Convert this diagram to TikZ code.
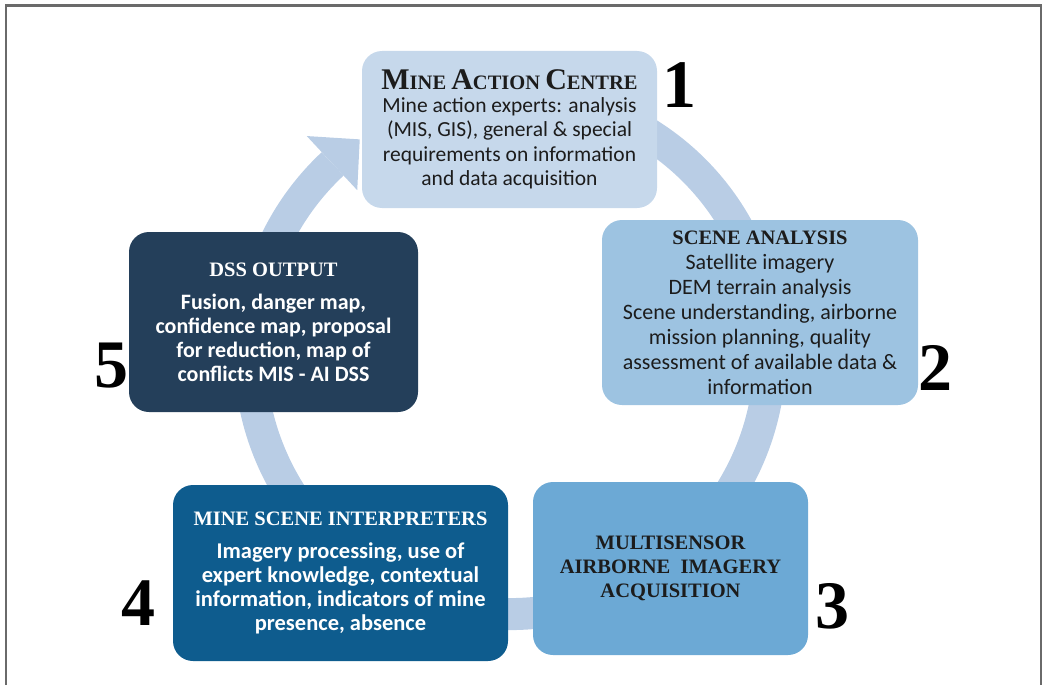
\documentclass[tikz,border=0pt]{standalone}
\usepackage{fontspec}
\setmainfont{Carlito}
\newfontfamily\serifb{Liberation Serif}
\definecolor{ringc}{HTML}{B9CDE5}
\definecolor{cA}{HTML}{C6D8EB}
\definecolor{cB}{HTML}{9DC3E1}
\definecolor{cC}{HTML}{6CA9D5}
\definecolor{cD}{HTML}{0E5C8E}
\definecolor{cE}{HTML}{243F5A}
\definecolor{txt}{HTML}{1C1C1C}
\definecolor{framec}{HTML}{6A6A6A}
\newcommand\ttl[1]{{\serifb\bfseries\fontsize{20.5}{24}\selectfont #1}}
\newcommand\bsc[2]{{\fontsize{30}{30}\selectfont #1}#2}
\tikzset{
  box/.style={rounded corners=20pt, align=center, inner sep=0pt, text=txt},
  num/.style={font=\serifb\bfseries\fontsize{68}{68}\selectfont, text=black, inner sep=0pt},
  ring/.style={draw=ringc, line width=32pt},
}
\begin{document}
\begin{tikzpicture}[x=1pt,y=-1pt]
\useasboundingbox (0,0) rectangle (1043,685);
\draw[framec, line width=2.5pt] (6,685) -- (6,5.5) -- (1041,5.5) -- (1041,685);
% ring
\coordinate (rc) at (510,354);
\draw[ring] (rc) ++(-110:260) arc[start angle=-110, end angle=227, radius=260];
\fill[ringc] ([shift={(-125:262)}]rc) -- ([shift={(-133:298)}]rc) -- ([shift={(-133:224)}]rc) -- cycle;
% boxes
\node[box, fill=cA, minimum width=295pt, minimum height=157pt,
  font=\fontsize{21.5}{24.5}\selectfont] (b1) at (509.5,129.5)
  {\ttl{\bsc{M}{INE} \bsc{A}{CTION} \bsc{C}{ENTRE}}\\[-2pt]
   Mine action experts: analysis\\(MIS, GIS), general \& special\\
   requirements on information\\and data acquisition};
\node[box, fill=cB, minimum width=316pt, minimum height=185pt,
  font=\fontsize{22}{25}\selectfont] (b2) at (760,312.5)
  {\ttl{SCENE ANALYSIS}\\Satellite imagery\\DEM terrain analysis\\
   Scene understanding, airborne\\mission planning, quality\\
   assessment of available data \&\\information};
\node[box, fill=cC, minimum width=275pt, minimum height=173pt,
  font=\serifb\bfseries\fontsize{20.5}{24}\selectfont] (b3) at (670.5,568.5)
  {MULTISENSOR\\AIRBORNE\ \ IMAGERY\\ACQUISITION};
\node[box, fill=cD, text=white, minimum width=335pt, minimum height=176pt,
  font=\bfseries\fontsize{22.5}{24}\selectfont] (b4) at (340.5,573)
  {\ttl{MINE SCENE INTERPRETERS}\\[9pt]
   Imagery processing, use of\\expert knowledge, contextual\\
   information, indicators of mine\\presence, absence};
\node[box, fill=cE, text=white, minimum width=289pt, minimum height=180pt,
  font=\bfseries\fontsize{22}{24}\selectfont] (b5) at (273.5,322)
  {\ttl{DSS OUTPUT}\\[9pt]
   Fusion, danger map,\\confidence map, proposal\\
   for reduction, map of\\conflicts MIS - AI DSS};
% numbers
\node[num] (n1) at (679,85) {1};
\node[num] (n2) at (935,368) {2};
\node[num] (n3) at (832,606) {3};
\node[num] (n4) at (138,603) {4};
\node[num] (n5) at (111,366) {5};
\end{tikzpicture}
\end{document}
